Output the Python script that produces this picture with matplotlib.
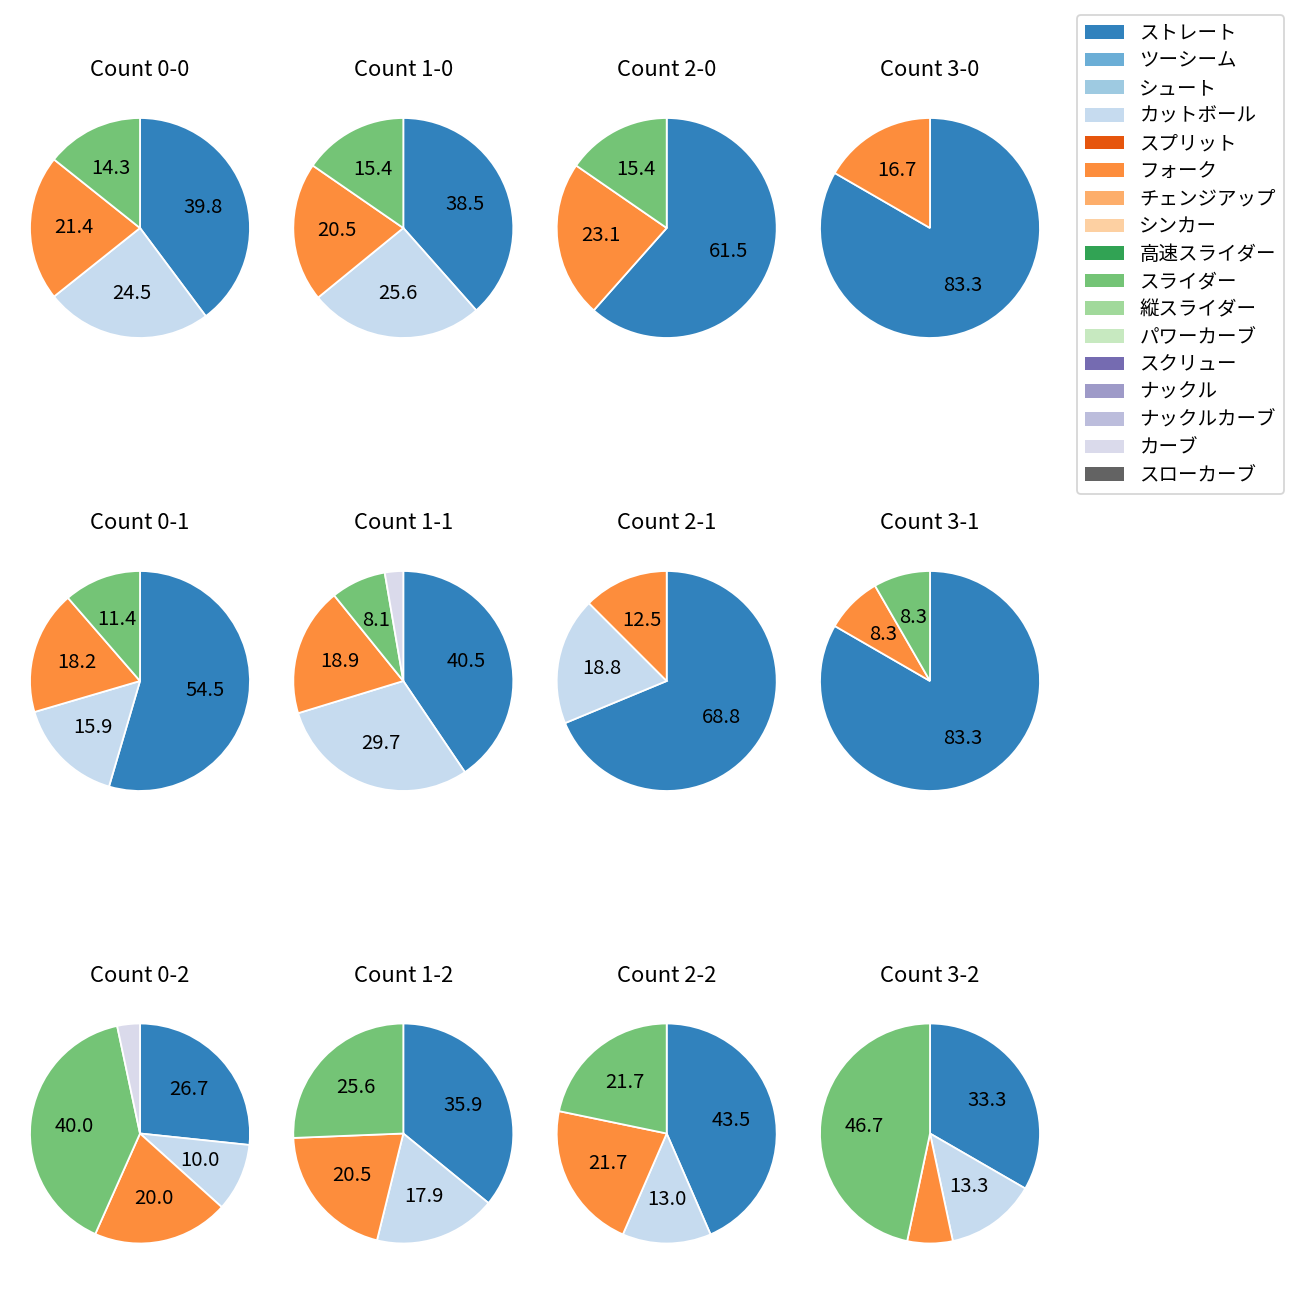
import numpy as np
import matplotlib
matplotlib.use("Agg")
import matplotlib.pyplot as plt
from matplotlib.patches import Patch

plt.rcParams['font.family'] = ['Noto Sans CJK JP', 'DejaVu Sans']

pitch_names = ['ストレート', 'ツーシーム', 'シュート', 'カットボール', 'スプリット', 'フォーク',
               'チェンジアップ', 'シンカー', '高速スライダー', 'スライダー', '縦スライダー',
               'パワーカーブ', 'スクリュー', 'ナックル', 'ナックルカーブ', 'カーブ', 'スローカーブ']

# pitch counts per ball-strike count, in the order of pitch_names
count_0_0 = [39, 0, 0, 24, 0, 21, 0, 0, 0, 14, 0, 0, 0, 0, 0, 0, 0]
count_1_0 = [15, 0, 0, 10, 0, 8, 0, 0, 0, 6, 0, 0, 0, 0, 0, 0, 0]
count_2_0 = [8, 0, 0, 0, 0, 3, 0, 0, 0, 2, 0, 0, 0, 0, 0, 0, 0]
count_3_0 = [5, 0, 0, 0, 0, 1, 0, 0, 0, 0, 0, 0, 0, 0, 0, 0, 0]
count_0_1 = [24, 0, 0, 7, 0, 8, 0, 0, 0, 5, 0, 0, 0, 0, 0, 0, 0]
count_1_1 = [15, 0, 0, 11, 0, 7, 0, 0, 0, 3, 0, 0, 0, 0, 0, 1, 0]
count_2_1 = [11, 0, 0, 3, 0, 2, 0, 0, 0, 0, 0, 0, 0, 0, 0, 0, 0]
count_3_1 = [10, 0, 0, 0, 0, 1, 0, 0, 0, 1, 0, 0, 0, 0, 0, 0, 0]
count_0_2 = [8, 0, 0, 3, 0, 6, 0, 0, 0, 12, 0, 0, 0, 0, 0, 1, 0]
count_1_2 = [14, 0, 0, 7, 0, 8, 0, 0, 0, 10, 0, 0, 0, 0, 0, 0, 0]
count_2_2 = [10, 0, 0, 3, 0, 5, 0, 0, 0, 5, 0, 0, 0, 0, 0, 0, 0]
count_3_2 = [5, 0, 0, 2, 0, 1, 0, 0, 0, 7, 0, 0, 0, 0, 0, 0, 0]

count_titles = [['Count 0-0', 'Count 1-0', 'Count 2-0', 'Count 3-0'],
                ['Count 0-1', 'Count 1-1', 'Count 2-1', 'Count 3-1'],
                ['Count 0-2', 'Count 1-2', 'Count 2-2', 'Count 3-2']]
count_data = [[count_0_0, count_1_0, count_2_0, count_3_0],
              [count_0_1, count_1_1, count_2_1, count_3_1],
              [count_0_2, count_1_2, count_2_2, count_3_2]]

colors = plt.get_cmap('tab20c').colors[:len(pitch_names)]

fig = plt.figure(figsize=(10, 10), dpi=130)
W, H = 1300.0, 1300.0
col_x = [140, 403.3, 666.7, 930]
row_y = [228, 681, 1133.5]
size = 275.0

for r in range(3):
    for c in range(4):
        ax = fig.add_axes([(col_x[c] - size / 2) / W, 1 - (row_y[r] + size / 2) / H,
                           size / W, size / H])
        vals = np.array(count_data[r][c])
        keep = vals > 0
        ax.pie(vals[keep], colors=[colors[i] for i in np.where(keep)[0]],
               startangle=90, counterclock=False,
               autopct=lambda p: f'{p:.1f}' if p >= 7 else '',
               textprops={'fontsize': 11.2},
               wedgeprops={'edgecolor': 'white', 'linewidth': 1})
        ax.set_title(count_titles[r][c], pad=8, fontsize=12.2)

handles = [Patch(facecolor=colors[i], label=pitch_names[i]) for i in range(len(pitch_names))]
fig.legend(handles=handles, loc='upper left', bbox_to_anchor=(1077 / W, 1 - 15 / H),
           borderaxespad=0, fontsize=10.8, labelspacing=0.34)

fig.savefig('out.png', dpi=130)
